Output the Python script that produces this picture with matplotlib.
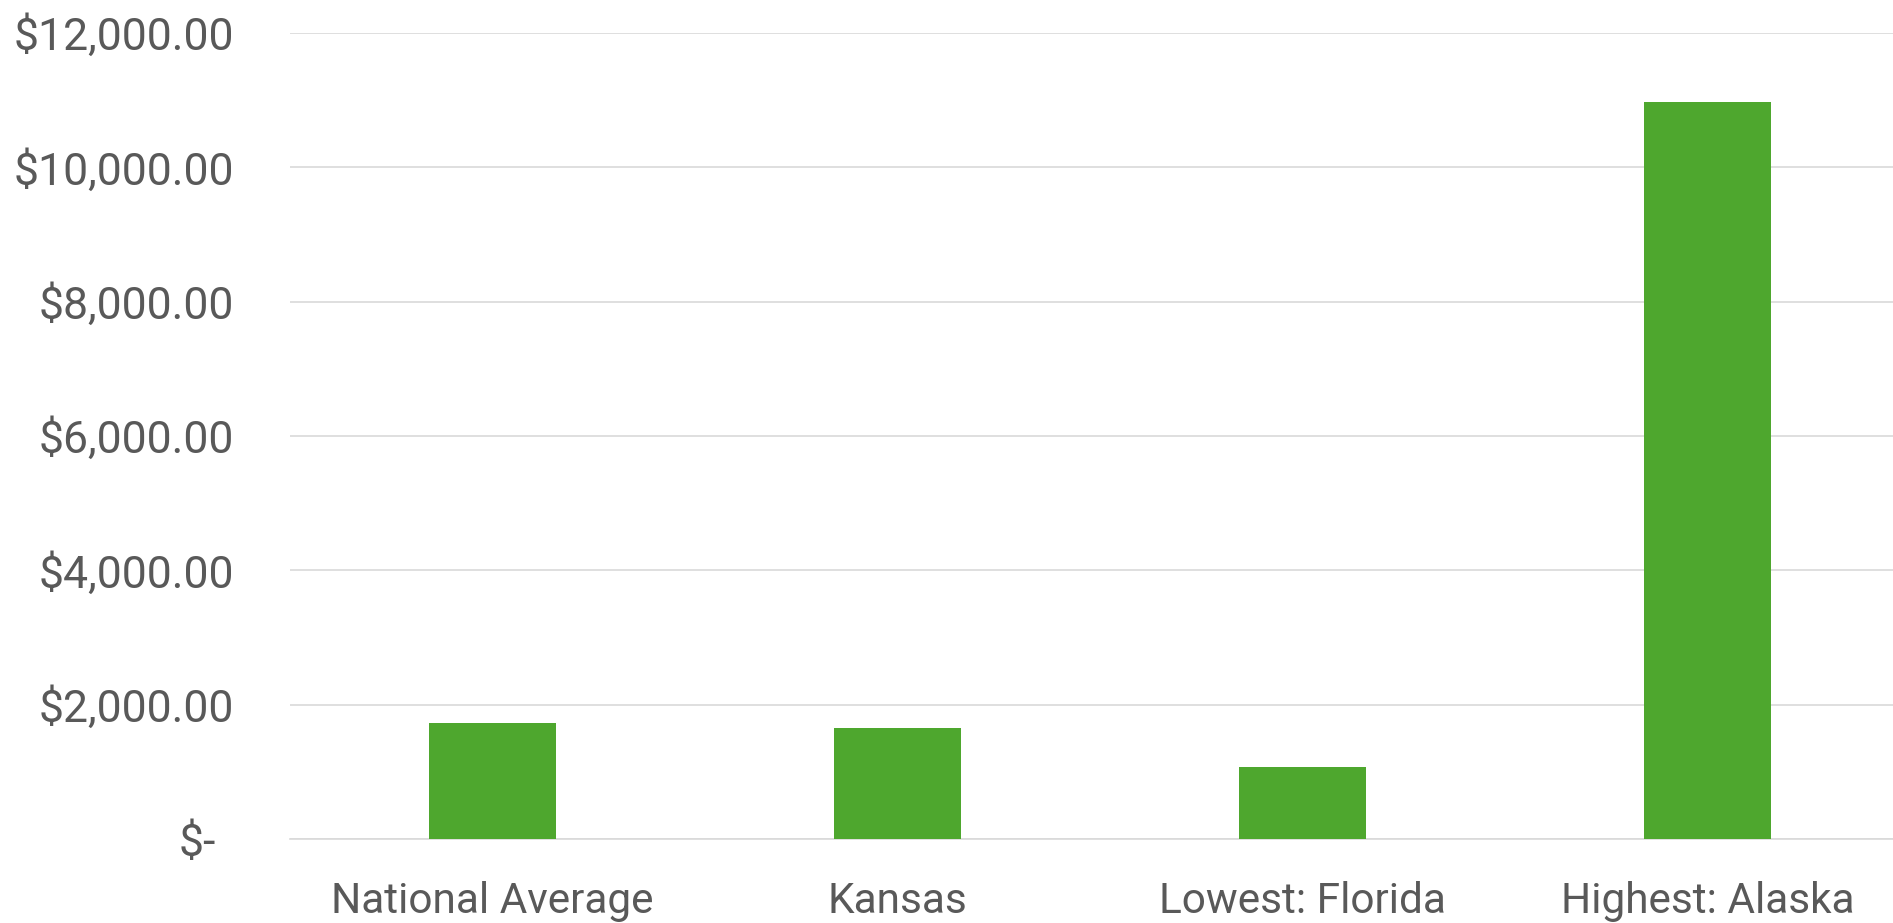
import matplotlib
matplotlib.use('Agg')
import matplotlib.pyplot as plt
import matplotlib.transforms as mtransforms
from matplotlib.ticker import FuncFormatter
import numpy as np

plt.rcParams['font.family'] = ['Roboto', 'DejaVu Sans']

categories = ['National Average', 'Kansas', 'Lowest: Florida', 'Highest: Alaska']
costs = [1730, 1656, 1072, 10977]
y_ticks = [0, 2000, 4000, 6000, 8000, 10000, 12000]

text_color = '#595959'
grid_color = '#d9d9d9'
bar_color = '#4ea72e'


def money(v, pos=None):
    if v == 0:
        return '$-'
    return f'${v:,.2f}'


fig = plt.figure(figsize=(18.93, 9.23), dpi=100)
ax = fig.add_axes([290 / 1893, 84 / 923, 1620 / 1893, 806 / 923])

x = np.arange(len(categories))
ax.bar(x, costs, width=0.314, color=bar_color, zorder=3)

ax.set_xlim(-0.5, len(categories) - 0.5)
ax.set_ylim(0, 12000)
ax.set_yticks(y_ticks)
ax.yaxis.set_major_formatter(FuncFormatter(money))
ax.set_xticks(x)
ax.set_xticklabels(categories)

ax.grid(axis='y', color=grid_color, linewidth=1.2, zorder=0)
ax.set_axisbelow(True)
for s in ('top', 'right', 'left'):
    ax.spines[s].set_visible(False)
ax.spines['bottom'].set_color(grid_color)
ax.spines['bottom'].set_linewidth(1.2)

ax.tick_params(axis='both', length=0, labelcolor=text_color)
ax.tick_params(axis='y', pad=40, labelsize=32)
ax.tick_params(axis='x', pad=30, labelsize=30.5)

# accounting format: the zero label sits a bit further left
fig.canvas.draw()
for lbl in ax.get_yticklabels():
    if lbl.get_text() == '$-':
        off = mtransforms.ScaledTranslation(-18 / 100, 0, fig.dpi_scale_trans)
        lbl.set_transform(lbl.get_transform() + off)

fig.savefig('out.png', dpi=100, facecolor='white')
